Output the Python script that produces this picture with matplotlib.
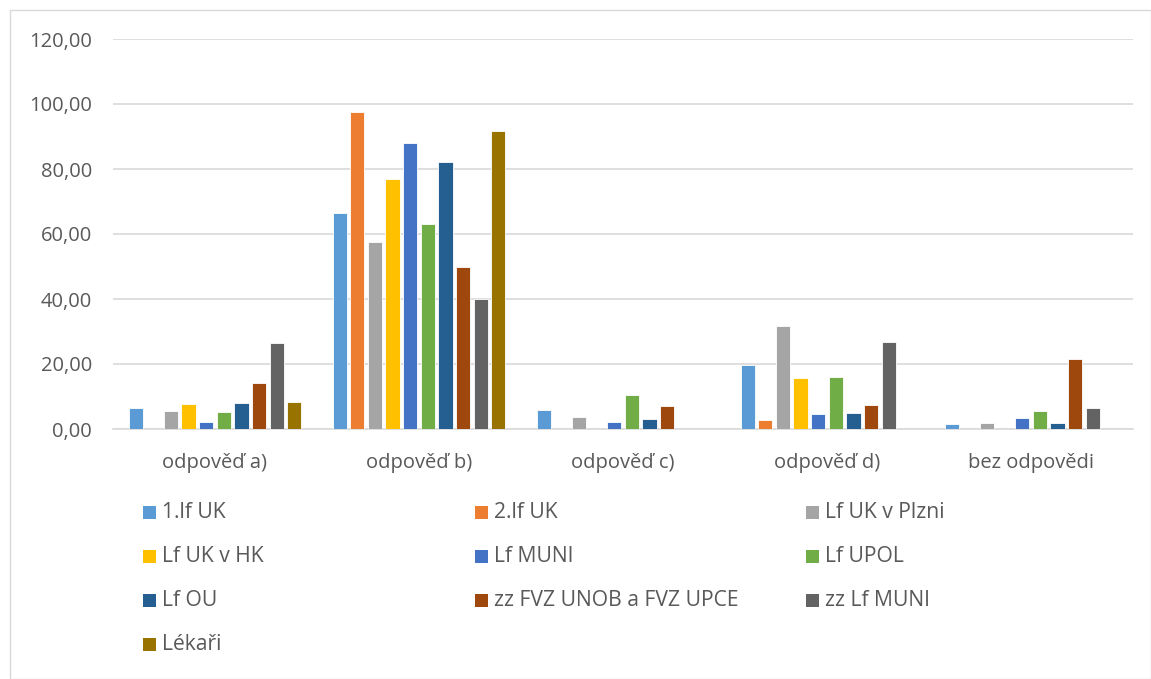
import matplotlib
matplotlib.use("Agg")
import matplotlib.pyplot as plt
import numpy as np
from matplotlib.patches import Rectangle

categories = ["odpověď a)", "odpověď b)", "odpověď c)", "odpověď d)", "bez odpovědi"]
series_names = ["1.lf UK", "2.lf UK", "Lf UK v Plzni", "Lf UK v HK", "Lf MUNI",
                "Lf UPOL", "Lf OU", "zz FVZ UNOB a FVZ UPCE", "zz Lf MUNI", "Lékaři"]
lf1_uk = [6.5, 66.4, 5.9, 19.8, 1.4]
lf2_uk = [0.0, 97.4, 0.0, 2.8, 0.0]
lf_plzen = [5.5, 57.4, 3.8, 31.6, 2.0]
lf_hk = [7.6, 76.8, 0.0, 15.6, 0.0]
lf_muni = [2.1, 87.9, 2.2, 4.6, 3.4]
lf_upol = [5.1, 63.2, 10.5, 15.9, 5.4]
lf_ou = [8.0, 82.2, 3.2, 5.0, 1.7]
zz_fvz = [14.1, 50.0, 7.1, 7.3, 21.4]
zz_muni = [26.5, 40.0, 0.0, 26.9, 6.6]
lekari = [8.2, 91.6, 0.0, 0.0, 0.0]
values = [lf1_uk, lf2_uk, lf_plzen, lf_hk, lf_muni, lf_upol, lf_ou, zz_fvz, zz_muni, lekari]
colors = ["#5B9BD5", "#ED7D31", "#A5A5A5", "#FFC000", "#4472C4",
          "#70AD47", "#255E91", "#9E480E", "#636363", "#997300"]

W, H = 1151, 679
fig = plt.figure(figsize=(W / 100, H / 100), dpi=100)
plt.rcParams['font.family'] = ['Open Sans', 'DejaVu Sans']
txt = "#595959"
fs = 14.5
fs_leg = 15.2

# outer frame
fig.patches.append(Rectangle((10 / W, 0), (W - 10) / W, (H - 10) / H, transform=fig.transFigure,
                             fill=False, edgecolor="#D9D9D9", lw=1))

ax = fig.add_axes([113 / W, 1 - 429 / H, (1133 - 113) / W, (429 - 39) / H])
n = len(values)
x = np.arange(len(categories))
slot = 0.0865
bw = 0.069
for i, (vals, c) in enumerate(zip(values, colors)):
    ax.bar(x + (i - (n - 1) / 2) * slot, vals, width=bw, color=c, edgecolor="white", linewidth=0.6, zorder=3)

ax.set_xlim(-0.5, len(categories) - 0.5)
ax.set_ylim(0, 120)
ax.set_yticks(np.arange(0, 121, 20))
ax.set_yticklabels([f"{v:.2f}".replace(".", ",") for v in np.arange(0, 121, 20)], fontsize=fs, color=txt)
ax.set_xticks(x)
ax.set_xticklabels(categories, fontsize=fs, color=txt)
ax.tick_params(axis="both", length=0)
ax.tick_params(axis="y", pad=15)
ax.tick_params(axis="x", pad=17)
ax.grid(axis="y", color="#D9D9D9", lw=1.2, zorder=0)
for s in ["top", "right", "left"]:
    ax.spines[s].set_visible(False)
ax.spines["bottom"].set_color("#D9D9D9")
ax.spines["bottom"].set_linewidth(1.2)

# legend (row-major, 3 columns)
col_x = [143, 475, 806]
row_y = [512, 556, 600, 644]
for i, (name, c) in enumerate(zip(series_names, colors)):
    r, col = divmod(i, 3)
    px, py = col_x[col], row_y[r]
    fig.patches.append(Rectangle((px / W, 1 - (py + 6.5) / H), 13 / W, 13 / H,
                                 transform=fig.transFigure, facecolor=c, edgecolor="none"))
    fig.text((px + 19) / W, 1 - py / H, name, fontsize=fs_leg, color=txt, va="center", ha="left")

fig.savefig("out.png", dpi=100)
